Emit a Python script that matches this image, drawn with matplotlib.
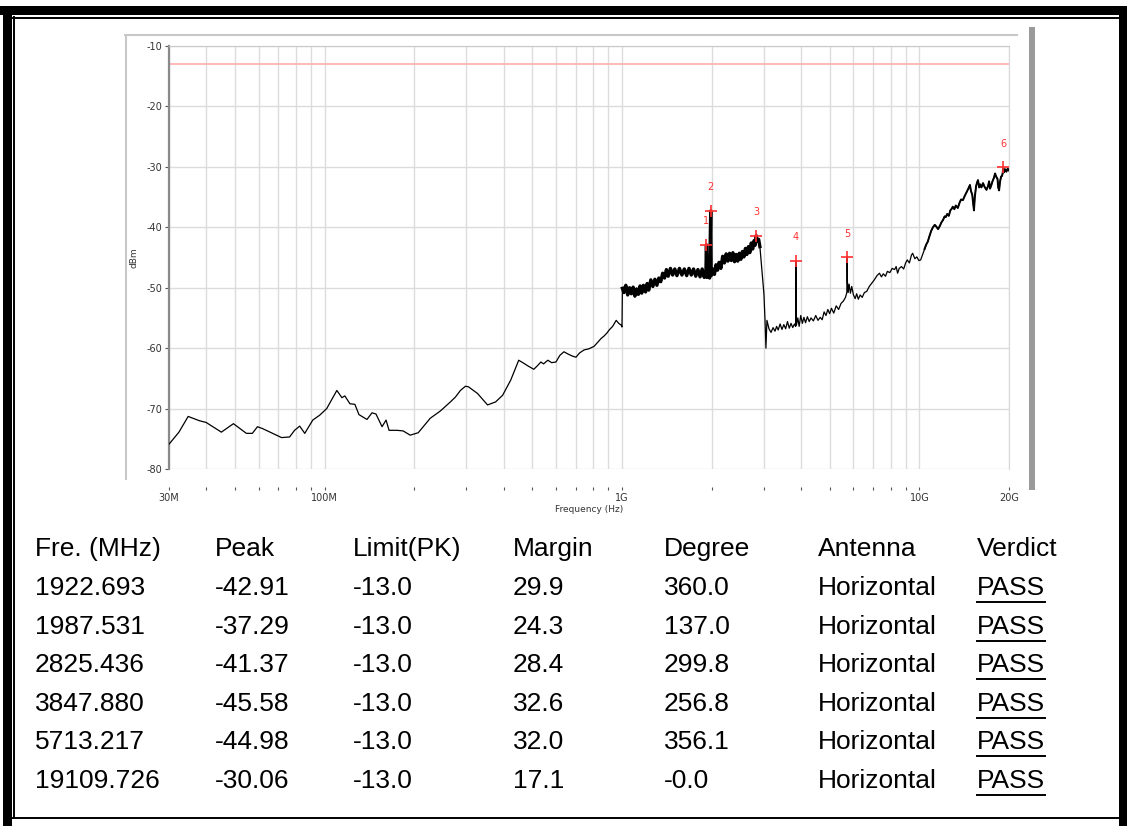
import matplotlib
matplotlib.use('Agg')
import matplotlib.pyplot as plt
from matplotlib.lines import Line2D
from matplotlib.patches import Rectangle

# ---------------------------------------------------------------
# Data
# ---------------------------------------------------------------
# measured trace, frequency in MHz and level in dBm
freq = [30, 32.4, 34.8, 37.9, 40.0, 45.0, 49.4, 54.6, 57.2, 59.5, 61.8,
        71.7, 76.3, 79.3, 82.5, 85.8, 91.3, 96.3, 101.7, 110, 114.4, 117,
        121.7, 126.5, 130.5, 138.9, 144.4, 148.9, 156.1, 161, 164.8, 175.4,
        183.8, 194.1, 206.5, 226.7, 245.1, 264.9, 275.4, 286.3, 297.7, 304.7,
        326.8, 353.2, 375.9, 396.9, 422.5, 449.6, 467.4, 485, 505.2, 520,
        533.4, 545, 563.2, 580, 599.6, 618, 638, 660, 680, 700.2, 720, 745.3,
        775, 805.7, 830, 850.7, 870, 890, 905.2, 930, 956.1, 975, 994, 1000,
        # 1 GHz - 2.9 GHz band
        1003, 1015, 1030, 1045, 1060, 1075, 1090, 1105, 1120, 1135, 1150,
        1165, 1180, 1200, 1215, 1230, 1250, 1270, 1290, 1310, 1330, 1350,
        1370, 1390, 1410, 1430, 1455, 1480, 1505, 1530, 1560, 1590, 1620,
        1650, 1680, 1710, 1740, 1770, 1800, 1830, 1860, 1890, 1915, 1922.693,
        1930, 1950, 1970, 1987.531, 1995, 2020, 2045, 2070, 2095, 2120, 2150,
        2180, 2210, 2240, 2270, 2300, 2330, 2360, 2390, 2420, 2450, 2480,
        2510, 2540, 2570, 2600, 2630, 2660, 2690, 2720, 2750, 2780, 2800,
        2825.436, 2850, 2880, 2908,
        # above 3 GHz
        3000, 3024, 3047, 3071, 3120, 3170, 3220, 3268, 3310, 3350, 3400,
        3450, 3500, 3550, 3600, 3650, 3700, 3750, 3800, 3835, 3847.88, 3858,
        3900, 3940, 3990, 4040, 4090, 4140, 4200, 4260, 4320, 4400, 4480,
        4560, 4640, 4710, 4780, 4850, 4920, 4990, 5060, 5150, 5250, 5350,
        5450, 5550, 5640, 5700, 5713.217, 5725, 5760, 5800, 5860, 5920, 6000,
        6080, 6150, 6230, 6320, 6420, 6530, 6650, 6780, 6900, 7050, 7200,
        7337, 7450, 7560, 7688, 7800, 7950, 8100, 8249, 8350, 8443, 8550,
        8700, 8850, 8985, 9100, 9250, 9400, 9487, 9650, 9800, 9950, 10095,
        10250, 10400, 10550, 10662, 10800, 10950, 11100, 11257, 11400, 11550,
        11704, 11850, 12000, 12150, 12264, 12400, 12550, 12700, 12850, 12944,
        13100, 13250, 13458, 13650, 13800, 13996, 14200, 14400, 14600, 14781,
        14900, 15050, 15150, 15248, 15350, 15500, 15620, 15730, 15880, 16000,
        16150, 16355, 16550, 16800, 17000, 17150, 17270, 17450, 17600, 17800,
        17957, 18100, 18300, 18400, 18523, 18650, 18817, 18950, 19050,
        19109.726, 19250, 19400, 19600, 19800, 20000]
level = [-75.9, -73.9, -71.3, -72.0, -72.3, -73.9, -72.5, -74.1, -74.1, -73.0, -73.3,
         -74.8, -74.7, -73.6, -72.9, -74.1, -71.9, -71.1, -70.0, -67.0, -68.2, -67.9,
         -69.2, -69.3, -71.0, -71.8, -70.7, -70.9, -73.0, -71.9, -73.6, -73.6,
         -73.7, -74.4, -74.0, -71.6, -70.4, -68.9, -68.1, -67.0, -66.3, -66.4,
         -67.5, -69.4, -68.9, -67.8, -65.3, -62.0, -62.5, -63.0, -63.5, -62.9,
         -62.3, -62.6, -62.0, -62.4, -62.3, -61.2, -60.6, -61.0, -61.3, -61.5, -60.8, -60.3,
         -60.1, -59.7, -59.0, -58.4, -58.0, -57.5, -57.0, -56.4, -55.4, -55.9, -56.2, -56.5,
         # 1 GHz - 2.9 GHz band
         -50.1, -50.8, -49.6, -51.2, -50.0, -51.0, -49.9, -51.4, -50.2, -51.1, -49.7,
         -50.9, -49.6, -50.7, -49.3, -50.4, -48.7, -49.8, -48.6, -49.6, -48.4, -49.0,
         -47.6, -48.4, -47.0, -48.1, -46.8, -47.9, -46.9, -48.0, -46.8, -47.9, -46.9,
         -48.0, -46.8, -47.9, -46.9, -48.1, -47.0, -48.2, -46.9, -48.3, -47.2, -42.91,
         -48.3, -47.0, -48.4, -37.29, -48.0, -46.9, -47.8, -46.2, -47.1, -45.8, -46.8,
         -44.8, -45.9, -44.4, -45.6, -44.3, -45.5, -44.2, -45.7, -44.5, -45.6, -44.3,
         -45.3, -44.0, -44.9, -43.5, -44.5, -43.2, -44.2, -42.6, -43.6, -42.2, -43.0,
         -41.37, -42.3, -42.0, -43.2,
         # above 3 GHz
         -51.0, -55.1, -60.0, -55.4, -56.8, -57.4, -56.6, -57.2, -56.4, -57.0, -56.0,
         -56.9, -56.1, -56.8, -55.6, -56.7, -55.9, -56.6, -56.0, -56.4, -45.58, -56.2,
         -55.0, -56.4, -54.6, -55.9, -54.9, -55.8, -54.8, -55.6, -55.0, -55.5, -54.6,
         -55.4, -54.9, -55.3, -54.0, -54.6, -53.6, -54.3, -53.4, -54.2, -53.0, -53.6,
         -52.6, -52.2, -51.6, -50.8, -44.98, -49.0, -50.8, -49.4, -50.9, -49.8, -51.2,
         -51.8, -51.0, -51.9, -51.2, -51.6, -50.8, -50.6, -49.8, -49.3, -48.7, -48.0,
         -47.6, -48.2, -47.7, -48.1, -47.3, -47.5, -46.8, -47.0, -46.5, -47.6, -46.8,
         -46.5, -46.9, -45.9, -45.4, -45.9, -44.6, -44.3, -45.2, -44.9, -45.5, -45.4,
         -44.5, -43.6, -42.8, -42.4, -41.5, -40.6, -40.0, -39.6, -39.9, -40.3,
         -39.8, -39.2, -38.8, -38.2, -38.3, -37.8, -38.1, -37.2, -36.9, -36.6,
         -37.0, -36.4, -36.8, -35.9, -35.4, -35.5, -34.8, -34.2, -33.6, -33.0,
         -34.0, -34.6, -36.0, -37.2, -35.0, -33.2, -32.6, -32.2, -33.4, -32.9,
         -33.4, -32.7, -33.3, -33.8, -33.2, -32.4, -33.6, -33.0, -32.4, -31.8,
         -31.1, -31.6, -32.0, -33.4, -33.9, -32.5, -31.6, -31.5, -31.0,
         -30.06, -30.9, -30.4, -30.8, -30.3, -30.6]

limit_level = -13.0

# marked peaks
mark_freq = [1922.693, 1987.531, 2825.436, 3847.880, 5713.217, 19109.726]
mark_level = [-42.91, -37.29, -41.37, -45.58, -44.98, -30.06]
mark_names = ['1', '2', '3', '4', '5', '6']

# table below the plot
headers = ['Fre. (MHz)', 'Peak', 'Limit(PK)', 'Margin', 'Degree', 'Antenna', 'Verdict']
col_freq = ['1922.693', '1987.531', '2825.436', '3847.880', '5713.217', '19109.726']
col_peak = ['-42.91', '-37.29', '-41.37', '-45.58', '-44.98', '-30.06']
col_limit = ['-13.0', '-13.0', '-13.0', '-13.0', '-13.0', '-13.0']
col_margin = ['29.9', '24.3', '28.4', '32.6', '32.0', '17.1']
col_degree = ['360.0', '137.0', '299.8', '256.8', '356.1', '-0.0']
col_antenna = ['Horizontal'] * 6
col_verdict = ['PASS'] * 6

x_major = [30, 100, 1000, 10000, 20000]
x_major_labels = ['30M', '100M', '1G', '10G', '20G']
x_minor = [40, 50, 60, 70, 80, 90, 200, 300, 400, 500, 600, 700, 800, 900,
           2000, 3000, 4000, 5000, 6000, 7000, 8000, 9000]
y_ticks = [-80, -70, -60, -50, -40, -30, -20, -10]

# ---------------------------------------------------------------
W, H = 1127, 826
fig = plt.figure(figsize=(W / 100, H / 100), dpi=100)


def fx(x):
    return x / W


def fy(y):
    return 1 - y / H


def box(x0, y0, x1, y1, color):
    fig.add_artist(Rectangle((fx(x0), fy(y1)), (x1 - x0) / W, (y1 - y0) / H,
                             facecolor=color, edgecolor='none',
                             transform=fig.transFigure))


def hline(x0, x1, y, color, lw):
    fig.add_artist(Line2D([fx(x0), fx(x1)], [fy(y), fy(y)], color=color, lw=lw))


def vline(x, y0, y1, color, lw):
    fig.add_artist(Line2D([fx(x), fx(x)], [fy(y0), fy(y1)], color=color, lw=lw))


# page borders
box(0, 6, W, 15, 'black')
box(3, 6, 12, H, 'black')
box(1119, 6, W, H, 'black')
hline(13, 1118, 17.5, 'black', 1.4)
vline(13.5, 17, 818, 'black', 1.4)
hline(13, 1118, 818, 'black', 1.4)

# chart panel frame
hline(125, 1017, 35, '#c8c8c8', 1.5)
vline(125.5, 35, 479, '#c8c8c8', 1.5)
box(1029, 27, 1035, 490, '#9a9a9a')

# ---------------------------------------------------------------
ax = fig.add_axes([fx(169), fy(469), (1009 - 169) / W, (469 - 46) / H])
ax.set_xscale('log')
ax.set_xlim(30, 20000)
ax.set_ylim(-80, -10)

ax.plot(freq, level, color='black', lw=0.9, zorder=3)
# the dense noisy parts of the trace show up as a thicker band
band = [i for i, f in enumerate(freq) if 1003 <= f <= 2910]
ax.plot([freq[i] for i in band], [level[i] for i in band],
        color='black', lw=2.4, zorder=3)
band = [i for i, f in enumerate(freq) if f >= 10400]
ax.plot([freq[i] for i in band], [level[i] for i in band],
        color='black', lw=1.4, zorder=3)

ax.axhline(limit_level, color='#ffb3b3', lw=1.3, zorder=2)

ax.plot(mark_freq, mark_level, linestyle='none', marker='+', ms=9, mew=1.2,
        color='#ff3030', zorder=4)
for f, l, n in zip(mark_freq, mark_level, mark_names):
    ax.annotate(n, (f, l), xytext=(0, 17), textcoords='offset points',
                ha='center', va='center', fontsize=7, color='#ff3030')

ax.set_xticks(x_major)
ax.set_xticklabels(x_major_labels)
ax.set_xticks(x_minor, minor=True)
ax.set_xticklabels([], minor=True)
ax.set_yticks(y_ticks)
ax.set_yticklabels([str(v) for v in y_ticks])

ax.grid(True, which='both', axis='x', color='#dcdcdc', lw=1.0)
ax.grid(True, which='major', axis='y', color='#dcdcdc', lw=1.0)
ax.set_axisbelow(True)

ax.spines['bottom'].set_position(('outward', 13))
ax.spines['bottom'].set_visible(False)
ax.spines['top'].set_color('#c8c8c8')
ax.spines['right'].set_color('#d8d8d8')
ax.spines['left'].set_color('#8a8a8a')
ax.spines['left'].set_linewidth(1.6)

ax.tick_params(axis='x', which='both', length=2.5, width=0.8, color='#555555',
               labelsize=7, labelcolor='#333333', pad=1.5)
ax.tick_params(axis='y', which='major', length=3, width=0.8, color='#555555',
               labelsize=7, labelcolor='#333333', pad=1.5)

ax.set_xlabel('Frequency (Hz)', fontsize=6.5, color='#333333', labelpad=2)
ax.set_ylabel('dBm', fontsize=6.5, color='#333333', labelpad=6)

# ---------------------------------------------------------------
# table
col_x = [35, 215, 353, 513, 664, 818, 977]
row_y = [549, 588, 627, 665, 704, 742, 781]
columns = [col_freq, col_peak, col_limit, col_margin, col_degree, col_antenna, col_verdict]
tfont = dict(fontsize=19, family='Liberation Sans', va='center', ha='left', color='black')

for x, h in zip(col_x, headers):
    fig.text(fx(x), fy(row_y[0]), h, **tfont)

pass_texts = []
for c, (x, col) in enumerate(zip(col_x, columns)):
    for r, s in enumerate(col):
        t = fig.text(fx(x), fy(row_y[r + 1]), s, **tfont)
        if c == len(columns) - 1:
            pass_texts.append(t)

fig.canvas.draw()
for t in pass_texts:
    bb = t.get_window_extent()
    fig.add_artist(Line2D([bb.x0 / W, bb.x1 / W], [(bb.y0 - 1.5) / H, (bb.y0 - 1.5) / H],
                          color='black', lw=1.4))

fig.savefig('out.png', dpi=100)
